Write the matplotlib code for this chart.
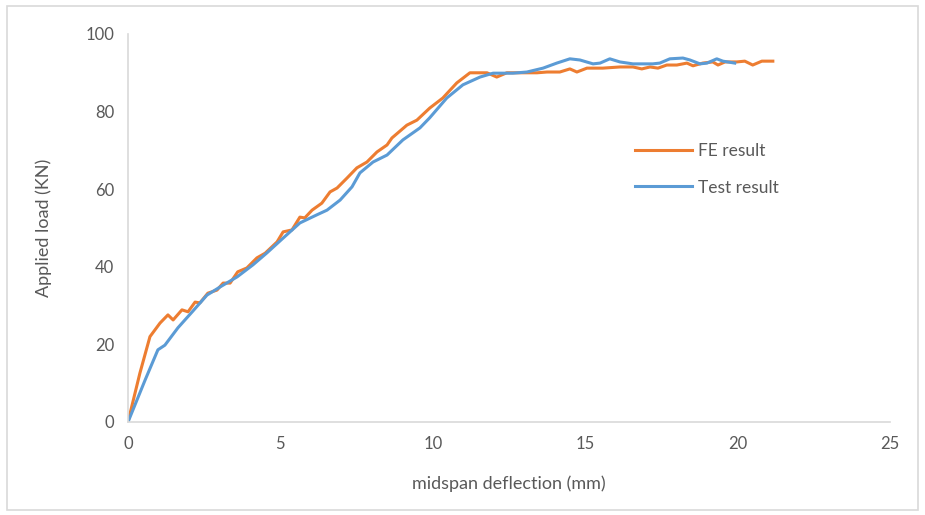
import matplotlib.pyplot as plt
from matplotlib.patches import Rectangle

# FE result (orange)
fe_x = [0, 0.07, 0.39, 0.72, 1.05, 1.31, 1.48, 1.77, 1.97, 2.2, 2.36, 2.62, 2.92, 3.12, 3.35,
        3.6, 3.9, 4.23, 4.5, 4.89, 5.09, 5.38, 5.64, 5.8, 6.04, 6.36, 6.63, 6.86, 7.19, 7.51,
        7.84, 8.17, 8.5, 8.66, 9.15, 9.48, 9.9, 10.33, 10.79, 11.22, 11.78, 12.1, 12.43, 12.86,
        13.42, 13.75, 14.17, 14.5, 14.73, 15.06, 15.58, 16.14, 16.57, 16.86, 17.13, 17.39,
        17.68, 18.01, 18.34, 18.54, 18.86, 19.19, 19.36, 19.59, 19.98, 20.24, 20.5, 20.8, 21.16]
fe_y = [0, 2.3, 12.6, 22, 25.5, 27.6, 26.3, 28.9, 28.4, 30.9, 30.7, 33.2, 34, 35.8, 35.8,
        38.7, 39.7, 42.3, 43.5, 46.4, 49, 49.5, 52.8, 52.6, 54.6, 56.4, 59.3, 60.3, 62.9, 65.5,
        67, 69.6, 71.4, 73.2, 76.5, 77.8, 80.9, 83.5, 87.4, 90, 90, 88.9, 90, 90,
        90, 90.2, 90.2, 91, 90.2, 91.2, 91.2, 91.5, 91.5, 91, 91.5, 91.2,
        92, 92, 92.5, 91.8, 92.5, 92.8, 92, 92.8, 92.8, 93, 92, 93, 93]

# Test result (blue)
test_x = [0, 0.56, 0.98, 1.21, 1.64, 2.13, 2.59, 3.02, 3.58, 4.1, 4.56, 5.09, 5.64, 6.2, 6.53,
          6.96, 7.35, 7.61, 8.04, 8.5, 9.02, 9.58, 9.9, 10.46, 10.99, 11.55, 11.98, 12.63,
          13.09, 13.62, 14.07, 14.5, 14.83, 15.26, 15.49, 15.81, 16.14, 16.57, 17.22, 17.45,
          17.78, 18.21, 18.44, 18.77, 19.0, 19.32, 19.52, 19.91]
test_y = [0, 10.8, 18.6, 19.8, 24.3, 28.6, 32.7, 34.8, 37.4, 40.5, 43.6, 47.4, 51.3, 53.4, 54.6,
          57.2, 60.6, 64.2, 67, 68.8, 72.7, 75.8, 78.4, 83.5, 86.9, 88.9, 89.9, 89.9,
          90.2, 91.2, 92.5, 93.6, 93.3, 92.3, 92.5, 93.6, 92.8, 92.3, 92.3, 92.5,
          93.6, 93.8, 93.3, 92.3, 92.5, 93.6, 93, 92.5]

plt.rcParams['font.family'] = ['Lato', 'DejaVu Sans']

fig = plt.figure(figsize=(9.25, 5.15), dpi=100)
fig.patches.append(Rectangle((0.008, 0.01), 0.984, 0.978, transform=fig.transFigure,
                             fill=False, edgecolor='#D9D9D9', linewidth=1.2))
ax = fig.add_axes([0.1384, 0.1806, 0.8236, 0.7534])

ax.plot(fe_x, fe_y, color='#ED7D31', linewidth=2.2, label='FE result')
ax.plot(test_x, test_y, color='#5B9BD5', linewidth=2.2, label='Test result')

ax.set_xlim(0, 25)
ax.set_ylim(0, 100)
ax.set_xticks(range(0, 26, 5))
ax.set_yticks(range(0, 101, 20))
for s in ['top', 'right']:
    ax.spines[s].set_visible(False)
for s in ['left', 'bottom']:
    ax.spines[s].set_color('#D9D9D9')
    ax.spines[s].set_linewidth(1.2)
ax.tick_params(length=0, labelsize=12, labelcolor='#595959', pad=10)

ax.set_xlabel('midspan deflection (mm)', fontsize=13, color='#595959', labelpad=17)
ax.set_ylabel('Applied load (KN)', fontsize=13, color='#595959', labelpad=24)

ax.legend(loc='upper left', bbox_to_anchor=(0.645, 0.76), frameon=False, fontsize=12.5,
          labelcolor='#595959', handlelength=3.3, handletextpad=0.3, labelspacing=1.2)

fig.savefig('out.png', dpi=100)
